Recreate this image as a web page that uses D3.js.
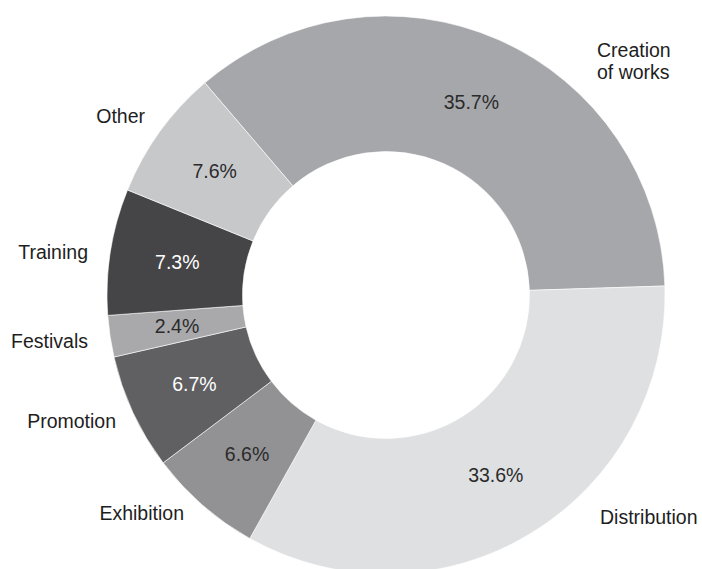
<!DOCTYPE html>
<html>
<head>
<meta charset="utf-8">
<script src="https://cdn.jsdelivr.net/npm/d3@7"></script>
<style>
  html, body { margin: 0; padding: 0; background: #fff; }
  svg { display: block; }
  text { font-family: "Liberation Sans", Arial, Helvetica, sans-serif; }
</style>
</head>
<body>
<div id="chart"></div>
<script>
// Share of spending by activity (percent), clockwise from "Creation of works"
const categories = ["Creation of works", "Distribution", "Exhibition", "Promotion", "Festivals", "Training", "Other"];
const shares = [35.7, 33.6, 6.6, 6.7, 2.4, 7.3, 7.6];
const valueLabels = ["35.7%", "33.6%", "6.6%", "6.7%", "2.4%", "7.3%", "7.6%"];

const fills = ["#a6a7aa", "#dfe0e1", "#929294", "#606062", "#a9a9ab", "#454547", "#c7c8ca"];
const valueInk = ["#2b2b2b", "#2b2b2b", "#2b2b2b", "#ffffff", "#2b2b2b", "#ffffff", "#2b2b2b"];

const width = 702, height = 569;
const cx = 386, cy = 295;
const outerR = 279, innerR = 143.5;
const startDeg = -40.5;

// Callout placement for the category names around the ring
const callouts = {
  "Creation of works": { anchor: "start", x: 597, y: 57, lines: ["Creation", "of works"] },
  "Distribution":      { anchor: "start", x: 600, y: 524, lines: ["Distribution"] },
  "Exhibition":        { anchor: "end",   x: 184, y: 520, lines: ["Exhibition"] },
  "Promotion":         { anchor: "end",   x: 116, y: 428, lines: ["Promotion"] },
  "Festivals":         { anchor: "end",   x: 88,  y: 348, lines: ["Festivals"] },
  "Training":          { anchor: "end",   x: 88,  y: 259, lines: ["Training"] },
  "Other":             { anchor: "end",   x: 145, y: 123, lines: ["Other"] }
};

const data = categories.map((c, i) => ({ name: c, value: shares[i], label: valueLabels[i], fill: fills[i], ink: valueInk[i] }));

const svg = d3.select("#chart").append("svg")
  .attr("width", width).attr("height", height);

const g = svg.append("g").attr("transform", `translate(${cx},${cy})`);

const start = startDeg * Math.PI / 180;
const pie = d3.pie().value(d => d.value).sort(null)
  .startAngle(start).endAngle(start + 2 * Math.PI);

const arc = d3.arc().innerRadius(innerR).outerRadius(outerR);
const labelArc = d3.arc().innerRadius((innerR + outerR) / 2).outerRadius((innerR + outerR) / 2);

const arcs = pie(data);

g.selectAll("path.slice")
  .data(arcs)
  .join("path")
  .attr("class", "slice")
  .attr("d", arc)
  .attr("fill", d => d.data.fill)
  .attr("stroke", "#ffffff")
  .attr("stroke-width", 0.6);

g.selectAll("text.value")
  .data(arcs)
  .join("text")
  .attr("class", "value")
  .attr("transform", d => `translate(${labelArc.centroid(d)})`)
  .attr("text-anchor", "middle")
  .attr("dy", "0.35em")
  .attr("font-size", 19.5)
  .attr("fill", d => d.data.ink)
  .text(d => d.data.label);

// Category names
const names = svg.append("g");
data.forEach(d => {
  const c = callouts[d.name];
  const t = names.append("text")
    .attr("text-anchor", c.anchor)
    .attr("font-size", 19.5)
    .attr("fill", "#1e1e1e");
  c.lines.forEach((line, i) => {
    t.append("tspan").attr("x", c.x).attr("y", c.y + i * 22).text(line);
  });
});
</script>
</body>
</html>
